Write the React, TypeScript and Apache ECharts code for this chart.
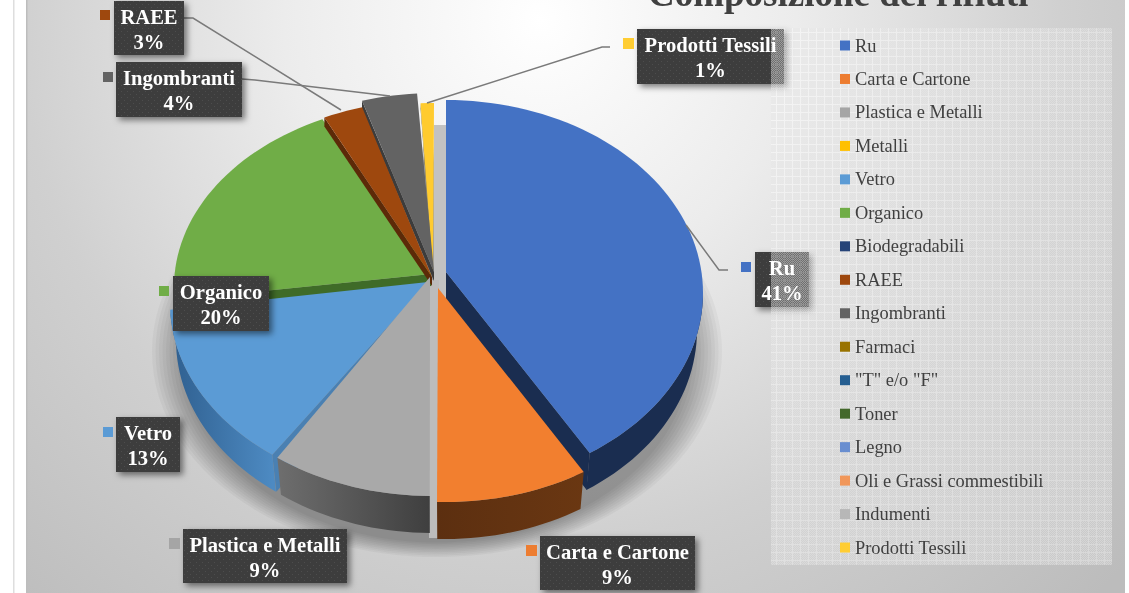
import React, { useEffect, useRef } from "react";
import * as echarts from "echarts";

const categories = ["Ru", "Carta e Cartone", "Plastica e Metalli", "Metalli", "Vetro", "Organico", "Biodegradabili", "RAEE", "Ingombranti", "Farmaci", '"T" e/o "F"', "Toner", "Legno", "Oli e Grassi commestibili", "Indumenti", "Prodotti Tessili"];
const percentages = [41, 9, 9, 0, 13, 20, 0, 3, 4, 0, 0, 0, 0, 0, 0, 1];
const colors = ["#4472c4", "#ed7d31", "#a5a5a5", "#ffc000", "#5b9bd5", "#70ad47", "#264478", "#9e480e", "#636363", "#997300", "#255e91", "#43682b", "#698ed0", "#f1975a", "#b7b7b7", "#ffcd33"];
const chartTitle = "Composizione dei rifiuti";

const FONT = "'Liberation Serif', 'Times New Roman', serif";
const RX = 257;
const DEPTH = 37;

type Look = {
  cx: number; cy: number; ry: number; ax: number; ay: number; d0: number; d1: number; top: any;
  wall?: [string, string]; wallSpan?: [number, number];
  radial?: { end: 0 | 1; depth: number; color: string; dx?: number };
  rank: number;
};

// Screen placement of each drawn slice (3-D projection of the exploded pie).
const looks: Record<string, Look> = {
  "Prodotti Tessili": { cx: 434, cy: 283, ry: 180, ax: 433, ay: 272, d0: 0.6, d1: 0, top: "#ffcb2f", radial: { end: 0, depth: 5, color: "#7f6000" }, rank: 1 },
  Ingombranti: { cx: 435, cy: 283, ry: 190, ax: 434, ay: 272, d0: 1.5, d1: -0.4, top: "#636363", radial: { end: 0, depth: 9, color: "#3c3c3c" }, rank: 2 },
  Organico: { cx: 431, cy: 287, ry: 185, ax: 431, ay: 274, d0: 6.8, d1: 3.8, top: "#70ad47", radial: { end: 0, depth: 12, color: "#3f6b28" }, rank: 3 },
  RAEE: { cx: 433, cy: 287, ry: 187, ax: 432, ay: 277, d0: 3.8, d1: 2, top: "#9e480e", radial: { end: 0, depth: 9, color: "#5c2a08" }, rank: 4 },
  Ru: { cx: 446, cy: 293, ry: 193, ax: 446, ay: 272, d0: 0, d1: -1.6, top: "#4472c4", wall: ["#1a2d50", "#1a2d50"], wallSpan: [90, 146], radial: { end: 1, depth: DEPTH, color: "#1a2d50", dx: -3 }, rank: 5 },
  Vetro: { cx: 427, cy: 303, ry: 190, ax: 428, ay: 282, d0: 4.6, d1: 8.8, top: "#5b9bd5", wall: ["#4d8ac2", "#2f5f8f"], wallSpan: [217, 268], radial: { end: 0, depth: DEPTH, color: "#4a80b2", dx: 4 }, rank: 6 },
  "Plastica e Metalli": { cx: 432, cy: 306, ry: 190, ax: 430, ay: 277, d0: 0.5, d1: 4.6, top: "#a9a9a9", wall: ["#3f3f3f", "#6e6e6e"], wallSpan: [180.5, 217], rank: 7 },
  "Carta e Cartone": { cx: 446, cy: 309, ry: 193, ax: 438, ay: 288, d0: 0, d1: 2, top: "#f27f2f", wall: ["#6a3712", "#5c2f10"], wallSpan: [147.6, 182], rank: 8 },
};

// Where each data label sits: box, marker and leader line.
const labelBoxes: Record<string, { x: number; y: number; w: number; h: number; mx: number; my: number; ms: number; leader?: number[][] }> = {
  RAEE: { x: 114, y: 1, w: 70, h: 54, mx: 100, my: 10, ms: 10, leader: [[184, 18], [193, 18], [341, 110]] },
  Ingombranti: { x: 116, y: 62, w: 126, h: 55, mx: 103, my: 72, ms: 10, leader: [[242, 79], [255, 80], [390, 96]] },
  Organico: { x: 173, y: 276, w: 96, h: 55, mx: 159, my: 286, ms: 10 },
  Vetro: { x: 116, y: 417, w: 64, h: 55, mx: 103, my: 427, ms: 10 },
  "Plastica e Metalli": { x: 183, y: 529, w: 164, h: 54, mx: 169, my: 538, ms: 11 },
  "Carta e Cartone": { x: 540, y: 536, w: 155, h: 54, mx: 526, my: 545, ms: 11 },
  Ru: { x: 755, y: 252, w: 54, h: 55, mx: 741, my: 262, ms: 10, leader: [[728, 270], [719, 270], [686, 225]] },
  "Prodotti Tessili": { x: 637, y: 29, w: 147, h: 55, mx: 623, my: 38, ms: 11, leader: [[610, 47], [602, 47], [427, 103]] },
};

const rad = (d: number) => (d * Math.PI) / 180;
const onEllipse = (cx: number, cy: number, rx: number, ry: number, t: number) => [cx + rx * Math.sin(rad(t)), cy - ry * Math.cos(rad(t))];
const arc = (cx: number, cy: number, rx: number, ry: number, a: number, b: number) => {
  const pts: number[][] = [];
  const n = Math.max(2, Math.ceil(Math.abs(b - a) / 2));
  for (let i = 0; i <= n; i++) pts.push(onEllipse(cx, cy, rx, ry, a + ((b - a) * i) / n));
  return pts;
};

const total = percentages.reduce((s, v) => s + v, 0);

function renderSlice(index: number, value: number) {
  const name = categories[index];
  const look = looks[name];
  if (!look || !value) return { type: "group", children: [] };
  const before = percentages.slice(0, index).reduce((s, v) => s + v, 0);
  const a = (before / total) * 360 + look.d0;
  const b = ((before + value) / total) * 360 + look.d1;
  const children: any[] = [];
  if (look.radial) {
    const t = look.radial.end ? b : a;
    const c = onEllipse(look.cx, look.cy, RX, look.ry, t);
    const dx = look.radial.dx || 0;
    const d = look.radial.depth;
    children.push({
      type: "polygon",
      shape: { points: [[look.ax, look.ay], c, [c[0] + dx, c[1] + d], [look.ax, look.ay + d]] },
      style: { fill: look.radial.color },
      z2: 1,
    });
  }
  if (look.wall && look.wallSpan) {
    const [s, e] = look.wallSpan;
    const upper = arc(look.cx, look.cy, RX, look.ry, s, e);
    const lower = arc(look.cx, look.cy + DEPTH, RX - 6, look.ry, e, s);
    const xs = upper.map((p) => p[0]);
    children.push({
      type: "polygon",
      shape: { points: [...upper, ...lower] },
      style: {
        fill: new echarts.graphic.LinearGradient(Math.max(...xs), 0, Math.min(...xs), 0, [
          { offset: 0, color: look.wall[0] },
          { offset: 1, color: look.wall[1] },
        ], true),
      },
      z2: 2,
    });
  }
  children.push({
    type: "polygon",
    shape: { points: [[look.ax, look.ay], ...arc(look.cx, look.cy, RX, look.ry, a, b)] },
    style: { fill: look.top },
    z2: 3,
  });
  return { type: "group", children };
}

function dotTile() {
  const c = document.createElement("canvas");
  c.width = 6; c.height = 6;
  const g = c.getContext("2d")!;
  g.fillStyle = "#3e3e3e"; g.fillRect(0, 0, 6, 6);
  g.fillStyle = "#4e4e4e"; g.fillRect(1, 1, 1, 1); g.fillRect(4, 4, 1, 1);
  return c;
}

function gridTile() {
  const c = document.createElement("canvas");
  c.width = 8; c.height = 8;
  const g = c.getContext("2d")!;
  for (let y = 0; y < 8; y++) for (let x = 0; x < 8; x++) {
    if (x === 0 || y === 0) g.fillStyle = "rgba(255,255,255,0.4)";
    else if ((x + y) % 2 === 0) g.fillStyle = "rgba(232,232,232,0.55)";
    else g.fillStyle = "rgba(225,225,225,0.3)";
    g.fillRect(x, y, 1, 1);
  }
  return c;
}

// Soft shadow under the pie: nested translucent ellipses, widest first.
function shadowLayers() {
  const layers: any[] = [];
  for (let i = 0; i < 10; i++) {
    layers.push({
      type: "ellipse", z: -4, z2: i, silent: true,
      shape: { cx: 437, cy: 352, rx: 285 - i * 3.5, ry: 205 - i * 1.6 },
      style: { fill: "rgba(0,0,0,0.036)" },
    });
  }
  return layers;
}

function buildOption() {
  const dots = { image: dotTile(), repeat: "repeat" };
  const grid = { image: gridTile(), repeat: "repeat" };
  const elements: any[] = [
    { type: "rect", z: -5, silent: true, shape: { x: 0, y: 0, width: 1129, height: 593 }, style: { fill: "#ffffff" } },
    { type: "rect", z: -5, z2: 1, silent: true, shape: { x: 13, y: 0, width: 1.5, height: 593 }, style: { fill: "#dedede" } },
    {
      type: "rect", z: -5, z2: 2, silent: true, shape: { x: 26, y: -10, width: 1099, height: 603 },
      style: {
        fill: new echarts.graphic.RadialGradient(540, 20, 800, [
          { offset: 0, color: "#ffffff" },
          { offset: 0.32, color: "#ececec" },
          { offset: 0.65, color: "#d0d0d0" },
          { offset: 1, color: "#bcbcbc" },
        ], true),
      },
    },
    { type: "rect", z: -5, z2: 3, silent: true, shape: { x: 26, y: -10, width: 1.5, height: 603 }, style: { fill: "#bdbdbd" } },
    ...shadowLayers(),
    { type: "rect", z: -3, silent: true, shape: { x: 434, y: 125, width: 13, height: 175 }, style: { fill: "#c2c2c2" } },
    { type: "rect", z: -3, silent: true, shape: { x: 429, y: 280, width: 10, height: 258 }, style: { fill: "#bcbcbc" } },
    // legend panel, over the label boxes
    { type: "rect", z: 32, silent: true, shape: { x: 771, y: 28, width: 341, height: 537 }, style: { fill: grid } },
  ];
  categories.forEach((name, i) => {
    const box = labelBoxes[name];
    if (!box || !percentages[i]) return;
    if (box.leader) {
      elements.push({ type: "polyline", z: 30, silent: true, shape: { points: box.leader }, style: { stroke: "#7a7a7a", lineWidth: 1.5, fill: "none" } });
    }
    elements.push({ type: "rect", z: 31, silent: true, shape: { x: box.x, y: box.y, width: box.w, height: box.h }, style: { fill: dots, shadowBlur: 6, shadowOffsetX: 3, shadowOffsetY: 3, shadowColor: "rgba(0,0,0,0.5)" } });
    elements.push({ type: "rect", z: 31, silent: true, shape: { x: box.mx, y: box.my, width: box.ms, height: box.ms }, style: { fill: colors[i] } });
    elements.push({
      type: "text", z: 33, silent: true, x: box.x + box.w / 2, y: box.y + box.h / 2 + 1,
      style: { text: `${name}\n${percentages[i]}%`, fill: "#ffffff", font: `bold 20.6px ${FONT}`, lineHeight: 25, align: "center", verticalAlign: "middle" },
    });
  });

  return {
    animation: false,
    title: {
      text: chartTitle, left: 648, top: -25, padding: 0, z: 20,
      textStyle: { fontFamily: FONT, fontWeight: "bold", fontSize: 37, color: "#404040" },
    },
    legend: {
      data: categories, orient: "vertical", left: 840, top: 35.5, padding: 0, z: 40,
      itemWidth: 10, itemHeight: 10, itemGap: 13.47, icon: "rect", selectedMode: false,
      textStyle: { fontFamily: FONT, fontSize: 18.4, color: "#404040", lineHeight: 20 },
    },
    graphic: { elements },
    series: categories.map((name, i) => ({
      type: "custom",
      name,
      coordinateSystem: "none",
      silent: true,
      z: 2 + (looks[name]?.rank ?? 0),
      itemStyle: { color: colors[i] },
      data: [[percentages[i]]],
      renderItem: (_p: any, api: any) => renderSlice(i, api.value(0)),
    })),
  };
}

export default function App() {
  const ref = useRef<HTMLDivElement>(null);
  useEffect(() => {
    const chart = echarts.init(ref.current!, undefined, { renderer: "svg" });
    chart.setOption(buildOption() as any);
    return () => chart.dispose();
  }, []);
  return <div ref={ref} style={{ position: "fixed", left: 0, top: 0, width: 1129, height: 593 }} />;
}
